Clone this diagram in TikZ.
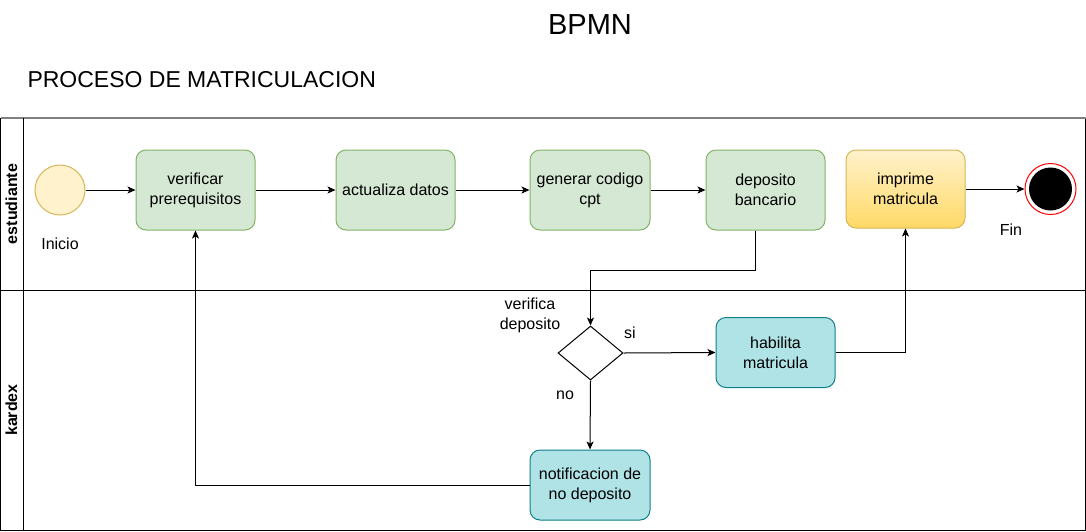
\documentclass[tikz,border=0pt]{standalone}
\usepackage{fontspec}
\setmainfont{Liberation Sans}
\usetikzlibrary{positioning, arrows.meta, shapes.geometric}
\definecolor{taskgreen}{HTML}{D5E8D4}
\definecolor{taskgreenline}{HTML}{82B366}
\definecolor{eventyellow}{HTML}{FFF2CC}
\definecolor{eventyellowline}{HTML}{D6B656}
\definecolor{taskgold}{HTML}{FFD966}
\definecolor{taskteal}{HTML}{B0E3E6}
\definecolor{tasktealline}{HTML}{0E8088}
\definecolor{endred}{HTML}{FF0000}

\begin{document}
\begin{tikzpicture}[x=1pt, y=-1pt, line width=1pt,
    txt/.style={font=\fontsize{16}{20}\selectfont, align=center, inner sep=0pt},
    task/.style={txt, draw=taskgreenline, fill=taskgreen, rounded corners=10pt,
                 minimum width=119pt, minimum height=80pt},
    tealtask/.style={task, draw=tasktealline, fill=taskteal, minimum height=70pt},
    flow/.style={-{Stealth[length=8pt, width=7pt, inset=2pt]}, line width=1pt},
    lanelabel/.style={rotate=90, font=\fontsize{16}{20}\selectfont\bfseries}]
  \useasboundingbox (0,0) rectangle (1086,531);

  % titles
  \node[font=\fontsize{29}{34}\selectfont] (title) at (590,25) {BPMN};
  \node[anchor=west, inner sep=0pt, font=\fontsize{23}{27}\selectfont] (process)
        at (27,80) {PROCESO DE MATRICULACION};

  % pool and lanes
  \draw (0.5,118) -- (0.5,530) -- (1085.5,530) -- (1085.5,118);
  \draw[gray, line width=1.6pt] (0.5,118) -- (1085.5,118);
  \draw (23,118) -- (23,530);
  \draw (0.5,290) -- (1085.5,290);
  \node[lanelabel] (lanestud) at (11.5,204) {estudiante};
  \node[lanelabel] (lanekardex) at (11.5,410) {kardex};

  % lane estudiante
  \node[circle, draw=eventyellowline, fill=eventyellow, minimum size=50pt,
        inner sep=0pt] (inicio) at (60,190) {};
  \node[txt] (inicioLbl) at (60,244) {Inicio};
  \node[task] (verificar) at (195.5,190) {verificar\\prerequisitos};
  \node[task] (actualiza) at (395.5,190) {actualiza datos};
  \node[task, minimum width=120pt] (generar) at (590,190) {generar codigo\\cpt};
  \node[task] (deposito) at (765.5,190) {deposito\\bancario};
  \node[task, draw=eventyellowline, top color=eventyellow, bottom color=taskgold,
        minimum height=78pt] (imprime) at (905.5,189) {imprime\\matricula};
  \node[circle, draw=endred, fill=white, minimum size=51pt, inner sep=0pt]
        (fin) at (1050.5,189) {};
  \node[circle, fill=black, minimum size=43pt, inner sep=0pt] (finIn) at (fin) {};
  \node[txt] (finLbl) at (1011,230) {Fin};

  % lane kardex
  \node[diamond, draw, fill=white, minimum width=65pt, minimum height=54pt,
        inner sep=0pt] (gateway) at (590.5,353) {};
  \node[txt] (gatewayLbl) at (530,315) {verifica\\deposito};
  \node[tealtask] (habilita) at (775.5,352.5) {habilita\\matricula};
  \node[tealtask, minimum width=120pt] (notifica) at (590,485)
        {notificacion de\\no deposito};
  \node[txt] (siLbl) at (630,333) {si};
  \node[txt] (noLbl) at (565,395) {no};

  % flows
  \draw[flow] (inicio) -- (verificar);
  \draw[flow] (verificar) -- (actualiza);
  \draw[flow] (actualiza) -- (generar);
  \draw[flow] (generar) -- (deposito);
  \draw[flow] (imprime.east) -- (fin.west);
  \draw[flow] ([xshift=-10pt]deposito.south) -- ++(0,40) -| (gateway.north);
  \draw[flow] (gateway.east) -- (habilita.west);
  \draw[flow] (habilita.east) -| (imprime.south);
  \draw[flow] (gateway.south) -- (notifica.north);
  \draw[flow] (notifica.west) -| (verificar.south);
\end{tikzpicture}
\end{document}
